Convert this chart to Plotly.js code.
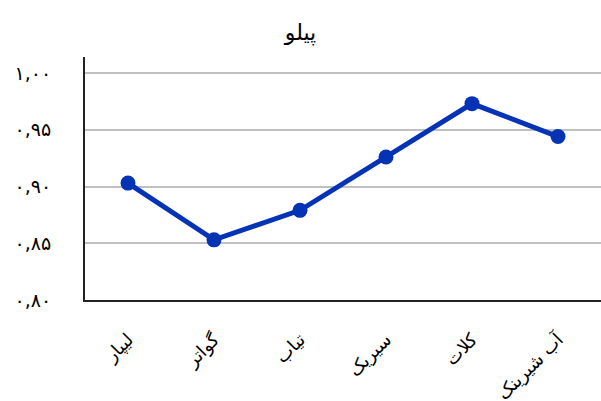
<!DOCTYPE html>
<html>
<head>
<meta charset="utf-8">
<script src="https://cdn.plot.ly/plotly-3.0.1.min.js"></script>
<style>html,body{margin:0;padding:0;background:#fff;}#chart{width:601px;height:401px;}</style>
</head>
<body>
<div id="chart"></div>
<script>
const categories = ['لیپار', 'گواتر', 'تیاب', 'سیریک', 'کلات', 'آب شیرینک'];
const values = [0.903, 0.853, 0.879, 0.926, 0.973, 0.944];
const yTickVals = [0.80, 0.85, 0.90, 0.95, 1.00];
const yTickText = ['۰,۸۰', '۰,۸۵', '۰,۹۰', '۰,۹۵', '۱,۰۰'];
const chartTitle = 'پیلو';

const trace = {
  type: 'scatter',
  mode: 'lines+markers',
  x: categories,
  y: values,
  line: {color: '#0433b5', width: 5},
  marker: {color: '#0433b5', size: 15},
  hoverinfo: 'none'
};

const layout = {
  width: 601, height: 401,
  margin: {l: 85, r: 0, t: 57, b: 101},
  paper_bgcolor: '#fff', plot_bgcolor: '#fff',
  showlegend: false,
  font: {family: 'DejaVu Sans, sans-serif', color: '#000'},
  title: {text: chartTitle, x: 0.5, xanchor: 'center', y: 0.92, yanchor: 'middle', font: {size: 22, color: '#000'}},
  xaxis: {
    type: 'category',
    range: [-0.5, 5.5],
    showline: true, linecolor: '#222', linewidth: 2,
    showgrid: false, zeroline: false,
    tickangle: -45,
    ticks: 'outside', ticklen: 20, tickcolor: 'rgba(0,0,0,0)',
    tickfont: {size: 18, color: '#000'},
    automargin: false
  },
  yaxis: {
    range: [0.8, 1.0141],
    tickvals: yTickVals, ticktext: yTickText,
    showline: true, linecolor: '#222', linewidth: 2,
    showgrid: true, gridcolor: '#c0c0c0', gridwidth: 2,
    zeroline: false,
    ticks: 'outside', ticklen: 28, tickcolor: 'rgba(0,0,0,0)',
    tickfont: {size: 19, color: '#000'},
    automargin: false
  }
};

Plotly.newPlot('chart', [trace], layout, {staticPlot: true, displayModeBar: false});
</script>
</body>
</html>
